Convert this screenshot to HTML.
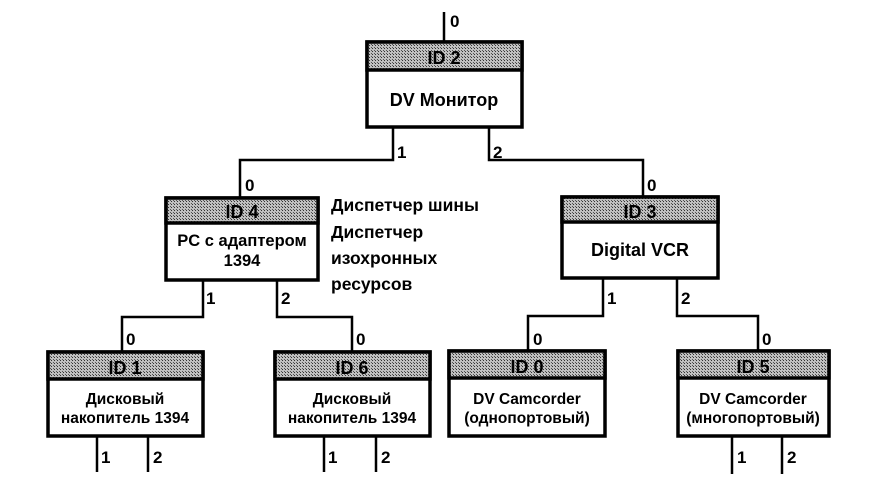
<!DOCTYPE html>
<html><head><meta charset="utf-8"><style>
html,body{margin:0;padding:0;background:#fff;width:896px;height:496px;overflow:hidden}
text{font-family:"Liberation Sans",Arial,sans-serif;font-weight:bold;fill:#000}
</style></head><body>
<svg width="896" height="496" viewBox="0 0 896 496" xmlns="http://www.w3.org/2000/svg">
<defs>
<pattern id="dots" width="3" height="3" patternUnits="userSpaceOnUse">
<rect width="3" height="3" fill="#c0c0c0"/><rect width="1" height="1" fill="#333"/><rect x="2" y="2" width="1" height="1" fill="#555"/>
</pattern>
</defs>
<g stroke="#000" stroke-width="2.5" fill="none">
<line x1="444" y1="12" x2="444" y2="42"/>
<polyline points="393,127 393,160 240,160 240,198"/>
<polyline points="489,127 489,160 643,160 643,198"/>
<polyline points="203,280 203,317 122,317 122,352"/>
<polyline points="277,280 277,317 352,317 352,352"/>
<polyline points="603,278 603,316 528,316 528,351"/>
<polyline points="677,278 677,316 758,316 758,351"/>
<line x1="97" y1="436" x2="97" y2="472"/>
<line x1="148" y1="436" x2="148" y2="472"/>
<line x1="324" y1="436" x2="324" y2="472"/>
<line x1="376" y1="436" x2="376" y2="472"/>
<line x1="732" y1="436" x2="732" y2="474"/>
<line x1="782" y1="436" x2="782" y2="474"/>
</g>
<g stroke="#000" stroke-width="3.5">
<rect x="367" y="42" width="155" height="85" fill="#fff"/>
<rect x="367" y="42" width="155" height="28" fill="url(#dots)"/>
<rect x="166" y="198" width="152" height="82" fill="#fff"/>
<rect x="166" y="198" width="152" height="25" fill="url(#dots)"/>
<rect x="562" y="197" width="156" height="81" fill="#fff"/>
<rect x="562" y="197" width="156" height="25" fill="url(#dots)"/>
<rect x="48" y="352" width="155" height="84" fill="#fff"/>
<rect x="48" y="352" width="155" height="27" fill="url(#dots)"/>
<rect x="275" y="352" width="155" height="84" fill="#fff"/>
<rect x="275" y="352" width="155" height="27" fill="url(#dots)"/>
<rect x="449" y="351" width="156" height="85" fill="#fff"/>
<rect x="449" y="351" width="156" height="27" fill="url(#dots)"/>
<rect x="678" y="351" width="151" height="85" fill="#fff"/>
<rect x="678" y="351" width="151" height="27" fill="url(#dots)"/>
</g>
<g font-size="18" text-anchor="middle">
<text x="444" y="64">ID 2</text>
<text x="444" y="106">DV Монитор</text>
<text x="242" y="218">ID 4</text>
<text x="242" y="246" font-size="16.5">PC с адаптером</text>
<text x="242" y="266" font-size="16.5">1394</text>
<text x="640" y="218">ID 3</text>
<text x="640" y="256">Digital VCR</text>
<text x="125" y="374">ID 1</text>
<text x="352" y="374">ID 6</text>
<text x="527" y="373">ID 0</text>
<text x="753" y="373">ID 5</text>
</g>
<g font-size="15.5" text-anchor="middle">
<text x="125" y="404">Дисковый</text>
<text x="125" y="423">накопитель 1394</text>
<text x="352" y="404">Дисковый</text>
<text x="352" y="423">накопитель 1394</text>
<text x="527" y="404">DV Camcorder</text>
<text x="527" y="423">(однопортовый)</text>
<text x="753" y="404">DV Camcorder</text>
<text x="753" y="423">(многопортовый)</text>
</g>
<g font-size="17.5">
<text x="331" y="211">Диспетчер шины</text>
<text x="331" y="238">Диспетчер</text>
<text x="331" y="264">изохронных</text>
<text x="331" y="290">ресурсов</text>
</g>
<g font-size="17">
<text x="450" y="27">0</text>
<text x="397" y="158">1</text>
<text x="493" y="158">2</text>
<text x="245" y="191">0</text>
<text x="647" y="191">0</text>
<text x="206" y="304">1</text>
<text x="281" y="304">2</text>
<text x="126" y="345">0</text>
<text x="356" y="345">0</text>
<text x="607" y="304">1</text>
<text x="681" y="304">2</text>
<text x="533" y="345">0</text>
<text x="762" y="345">0</text>
<text x="101" y="463">1</text>
<text x="153" y="463">2</text>
<text x="328" y="463">1</text>
<text x="381" y="463">2</text>
<text x="737" y="463">1</text>
<text x="787" y="463">2</text>
</g>
</svg>
</body></html>
